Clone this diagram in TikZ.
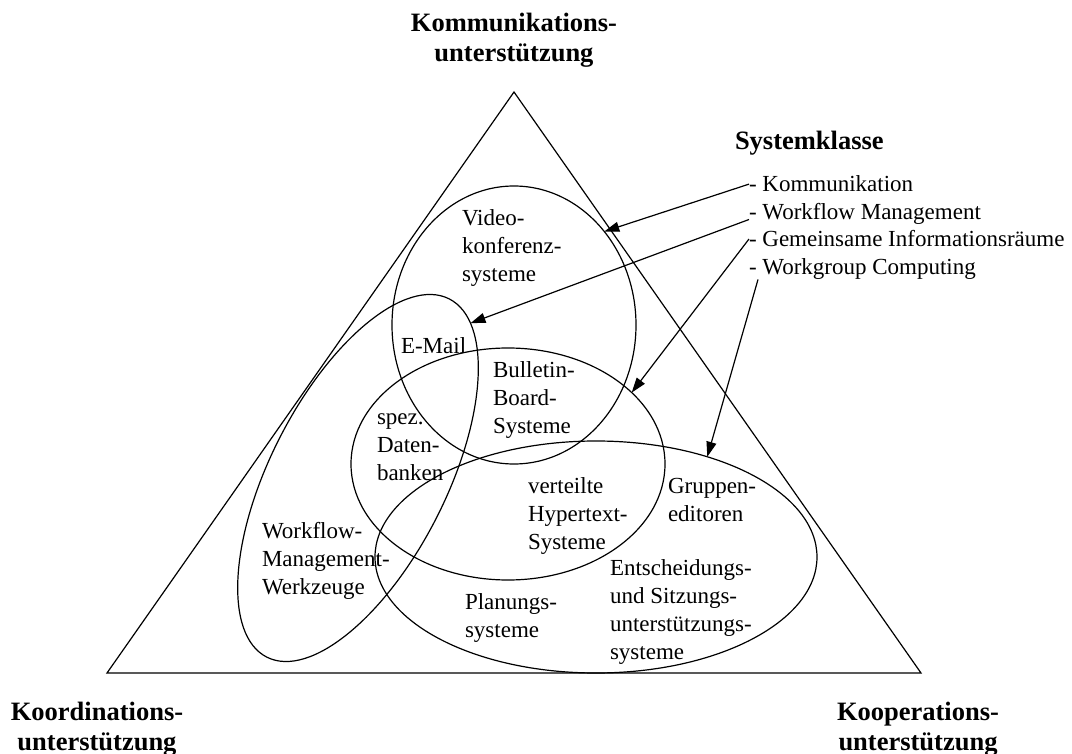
\documentclass[tikz,border=0pt]{standalone}
\usepackage{fontspec}
\setmainfont{Liberation Serif}
\usetikzlibrary{shapes.geometric,arrows.meta}
\begin{document}
\begin{tikzpicture}[x=1pt,y=-1pt,
  every node/.style={inner sep=0pt, outer sep=0pt},
  zone/.style={ellipse, draw, line width=1.2pt, inner sep=0pt},
  entry/.style={align=left, anchor=base west, font=\fontsize{23}{28}\selectfont},
  heading/.style={align=center, anchor=base, font=\fontsize{26.5}{30}\selectfont\bfseries},
  legend/.style={anchor=base west, font=\fontsize{23}{27.5}\selectfont},
  arr/.style={line width=1.2pt, -{Triangle[length=15pt,width=10pt]}}
]
\useasboundingbox (0,0) rectangle (1072,754);

% outer triangle
\coordinate (top) at (514,92);
\coordinate (bl) at (107,673);
\coordinate (br) at (921,673);
\draw[line width=1.2pt] (bl) -- (top) -- (br) -- cycle;

% corner headings (anchored at the baseline of their last line)
\node[heading] (hkomm) at (514,62) {Kommunikations-\\unterstützung};
\node[heading] (hkoord) at (97,750) {Koordinations-\\unterstützung};
\node[heading] (hkoop) at (918,750) {Kooperations-\\unterstützung};

% system class regions
\node[zone, minimum width=244pt, minimum height=278pt] (video) at (514,325) {};
\node[zone, minimum width=402pt, minimum height=176pt, rotate=63] (wf) at (358,478) {};
\node[zone, minimum width=314pt, minimum height=232pt] (mid) at (508,464) {};
\node[zone, minimum width=442pt, minimum height=232pt] (bot) at (596,557) {};

% system types (anchored at the baseline of their last line)
\node[entry] (tvideo) at (462,282) {Video-\\konferenz-\\systeme};
\node[entry] (tmail) at (401,353) {E-Mail};
\node[entry] (tbbs) at (493,433) {Bulletin-\\Board-\\Systeme};
\node[entry] (tdb) at (377,480) {spez.\\Daten-\\banken};
\node[entry] (thyp) at (528,549) {verteilte\\Hypertext-\\Systeme};
\node[entry] (tgrp) at (668,521) {Gruppen-\\editoren};
\node[entry] (twf) at (262,594) {Workflow-\\Management-\\Werkzeuge};
\node[entry] (tplan) at (465,637) {Planungs-\\systeme};
\node[entry] (tdss) at (610,659) {Entscheidungs-\\und Sitzungs-\\unterstützungs-\\systeme};

% legend
\node[anchor=base west, font=\fontsize{26.5}{30}\selectfont\bfseries] (hsys) at (735,150) {Systemklasse};
\node[legend] (lk) at (749,192) {- Kommunikation};
\node[legend] (lw) at (749,219.5) {- Workflow Management};
\node[legend] (lg) at (749,247) {- Gemeinsame Informationsräume};
\node[legend] (lc) at (749,274.5) {- Workgroup Computing};

% pointers from legend to regions
\draw[arr] (lk.west) -- (video.46);
\draw[arr] (lw.base west) -- (wf.-9);
\draw[arr] (lg.west) -- (mid.30);
\draw[arr] ([xshift=9pt]lc.south west) -- (bot.42);
\end{tikzpicture}
\end{document}
